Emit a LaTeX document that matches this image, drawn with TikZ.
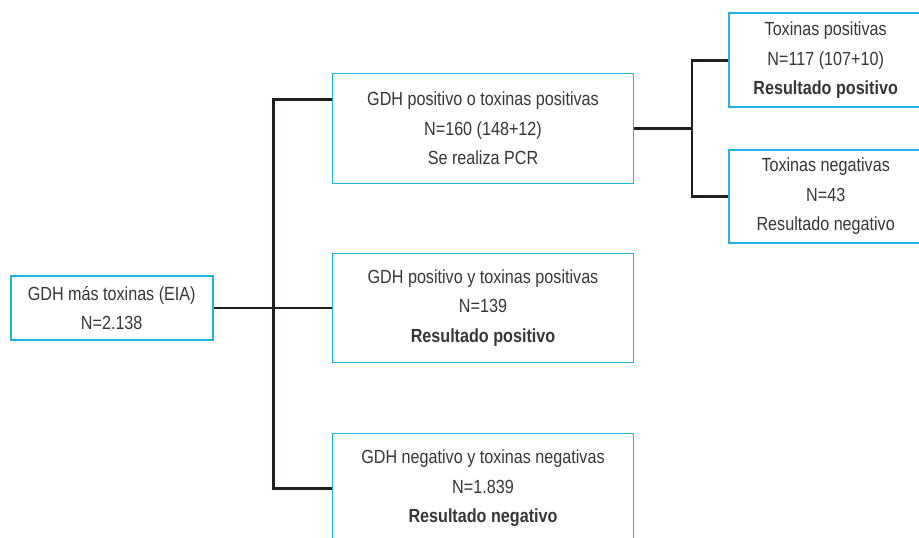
\documentclass[tikz,border=0pt]{standalone}
\usepackage{fontspec}
\setmainfont[FakeStretch=0.85]{Liberation Sans}
\definecolor{boxblue}{RGB}{30,180,232}
\definecolor{txt}{RGB}{55,55,55}
\definecolor{linec}{RGB}{35,31,32}
\begin{document}
\begin{tikzpicture}[x=1pt,y=-1pt,
  box/.style={draw=boxblue,line width=1.6pt,fill=white,text=txt,align=center,
    inner sep=0pt,font=\fontsize{19}{29.5}\selectfont},
  conn/.style={draw=linec,line width=2.6pt}]
\useasboundingbox (0,0) rectangle (919,538);
\clip (0,0) rectangle (919,538);
\node[box,minimum width=202,minimum height=64] (A) at (111.7,308) {GDH más toxinas (EIA)\\N=2.138};
\node[box,minimum width=301,minimum height=110] (B) at (483,128.5) {GDH positivo o toxinas positivas\\N=160 (148+12)\\Se realiza PCR};
\node[box,minimum width=301,minimum height=109] (C) at (483,308) {GDH positivo y toxinas positivas\\N=139\\\textbf{Resultado positivo}};
\node[box,minimum width=301,minimum height=110] (D) at (483,488.3) {GDH negativo y toxinas negativas\\N=1.839\\\textbf{Resultado negativo}};
\node[box,minimum width=194,minimum height=94] (E) at (825.7,60.2) {Toxinas positivas\\N=117 (107+10)\\\textbf{Resultado positivo}};
\node[box,minimum width=194,minimum height=93] (F) at (825.7,196.5) {Toxinas negativas\\N=43\\Resultado negativo};
\coordinate (j) at (273.7,308);
\coordinate (k) at (692,128.5);
\draw[conn] (A.east) -- (C.west);
\draw[conn] ([yshift=-27pt]B.north west) -| (j) |- (D.west);
\draw[conn] (B.east) -- (k);
\draw[conn] (E.west) -| (k) |- (F.west);
\end{tikzpicture}
\end{document}
